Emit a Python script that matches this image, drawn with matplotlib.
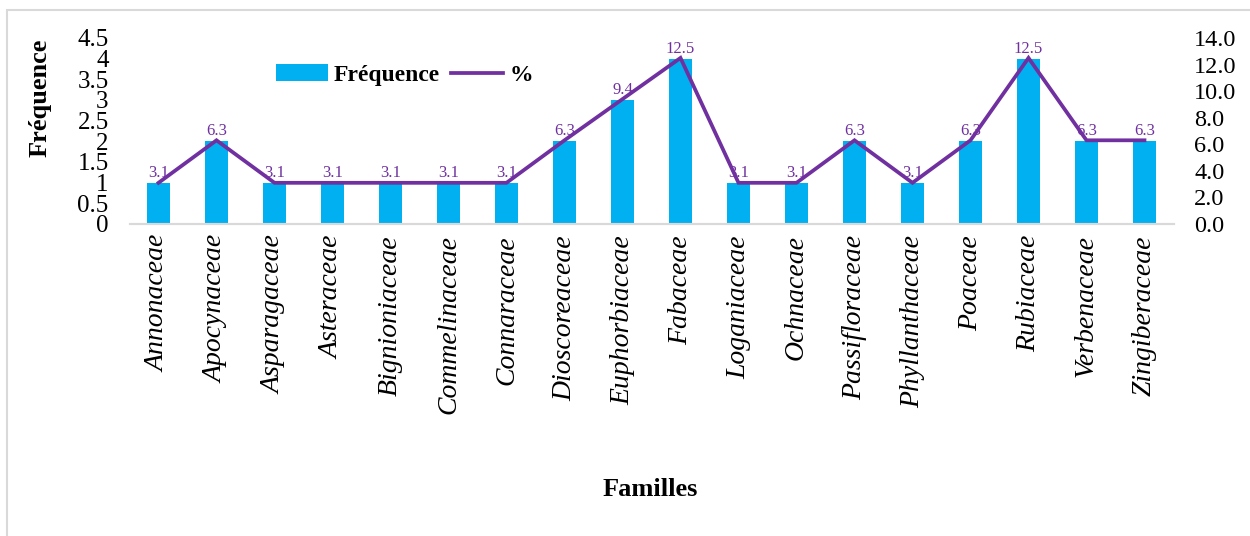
import matplotlib
matplotlib.use("Agg")
import matplotlib.pyplot as plt
from matplotlib.patches import Rectangle
import numpy as np

familles = ["Annonaceae", "Apocynaceae", "Asparagaceae", "Asteraceae", "Bignioniaceae",
            "Commelinaceae", "Connaraceae", "Dioscoreaceae", "Euphorbiaceae", "Fabaceae",
            "Loganiaceae", "Ochnaceae", "Passifloraceae", "Phyllanthaceae", "Poaceae",
            "Rubiaceae", "Verbenaceae", "Zingiberaceae"]
frequence = [1, 2, 1, 1, 1, 1, 1, 2, 3, 4, 1, 1, 2, 1, 2, 4, 2, 2]
pourcent = [3.1, 6.3, 3.1, 3.1, 3.1, 3.1, 3.1, 6.3, 9.4, 12.5, 3.1, 3.1, 6.3, 3.1, 6.3, 12.5, 6.3, 6.3]
left_ticks = [0, 0.5, 1, 1.5, 2, 2.5, 3, 3.5, 4, 4.5]
left_labels = ["0", "0.5", "1", "1.5", "2", "2.5", "3", "3.5", "4", "4.5"]
right_ticks = [0, 2, 4, 6, 8, 10, 12, 14]

BAR = "#00B0F0"
LINE = "#7030A0"
GRID = "#D9D9D9"

plt.rcParams["font.family"] = ["Liberation Serif", "DejaVu Serif"]

fig = plt.figure(figsize=(12.5, 5.36), dpi=100)
ax = fig.add_axes([129.5 / 1250, 312 / 536, 1044 / 1250, 186 / 536])
ax2 = ax.twinx()

x = np.arange(len(familles))
bars = ax.bar(x, frequence, width=0.4, color=BAR, zorder=2, label="Fréquence")
line, = ax2.plot(x, pourcent, color=LINE, lw=2.7, zorder=3, label="%",
                 solid_joinstyle="miter")

ax.set_xlim(-0.5, len(familles) - 0.5)
ax.set_ylim(0, 4.5)
ax2.set_ylim(0, 14)

ax.set_yticks(left_ticks)
ax.set_yticklabels(left_labels, fontsize=18)
ax2.set_yticks(right_ticks)
ax2.set_yticklabels([f"{v:.1f}" for v in right_ticks], fontsize=17.5)
ax.tick_params(axis="y", length=0, pad=15)
ax2.tick_params(axis="y", length=0, pad=15)

ax.set_xticks(x)
ax.set_xticklabels(familles, rotation=90, fontsize=20, style="italic", va="top")
ax.tick_params(axis="x", length=0, pad=8)

for a in (ax, ax2):
    for s in ("top", "right", "left"):
        a.spines[s].set_visible(False)
    a.spines["bottom"].set_color(GRID)
    a.spines["bottom"].set_linewidth(1.5)

for xi, v in zip(x, pourcent):
    ax2.annotate(f"{v:.1f}", (xi, v), xytext=(0, 1), textcoords="offset points",
                 ha="center", va="bottom", fontsize=12, color=LINE, zorder=4)

ax.set_ylabel("Fréquence", fontsize=19, fontweight="bold")
ax.yaxis.set_label_coords(-0.075, 0.68)
fig.text(650 / 1250, 1 - 489 / 536, "Familles", ha="center", va="center",
         fontsize=19, fontweight="bold")

leg = ax.legend([bars, line], ["Fréquence", "%"], loc="center left",
                bbox_to_anchor=(0.14, 0.80), ncol=2, frameon=False,
                handlelength=2.2, handletextpad=0.25, columnspacing=0.5,
                borderaxespad=0, borderpad=0,
                prop={"size": 17, "weight": "bold"})

fig.patches.append(Rectangle((7 / 1250, -0.1), 1.2, 1 - 10 / 536 + 0.1,
                             transform=fig.transFigure, fill=False,
                             edgecolor=GRID, lw=1.5))

fig.savefig("out.png", dpi=100)
